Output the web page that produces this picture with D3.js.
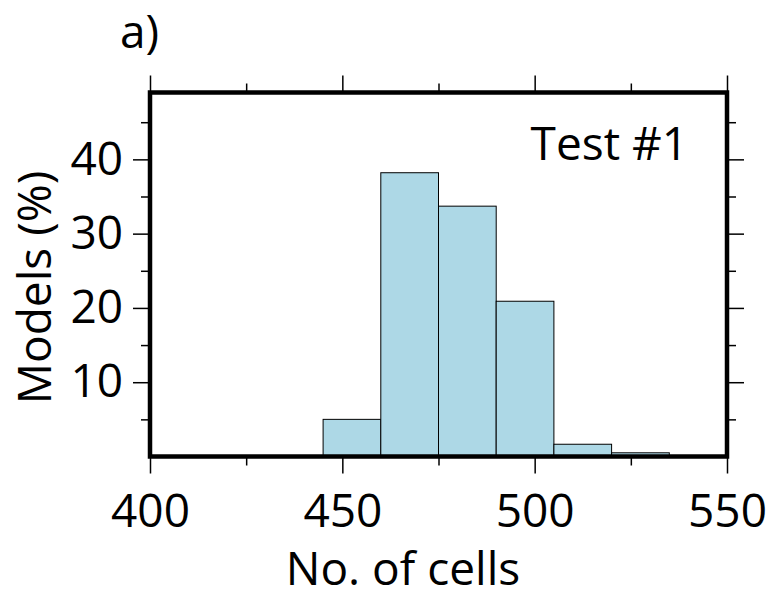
<!DOCTYPE html>
<html>
<head>
<meta charset="utf-8">
<script src="https://cdn.jsdelivr.net/npm/d3@7/dist/d3.min.js"></script>
<style>
  html, body { margin: 0; padding: 0; background: #fff; }
  svg { display: block; }
  text { font-family: "Open Sans", "Noto Sans", sans-serif; fill: #000; }
</style>
</head>
<body>
<svg id="chart" width="768" height="598"></svg>
<script>
// ---- data ----
const binStarts = [445, 460, 475, 490, 505, 520];
const binWidth = 15;
const percents = [5.0, 38.2, 33.7, 20.9, 1.65, 0.5];
const xMajorTicks = [400, 450, 500, 550];
const xMinorTicks = [425, 475, 525];
const yMajorTicks = [10, 20, 30, 40];
const yMinorTicks = [5, 15, 25, 35, 45];
const xDomain = [400, 550];
const yDomain = [0, 49];
const xTitle = "No. of cells";
const yTitle = "Models (%)";
const panelLabel = "a)";
const testLabel = "Test #1";

// ---- layout ----
const svg = d3.select("#chart");
const L = 150, R = 727, T = 92.5, B = 456.5;
const x = d3.scaleLinear().domain(xDomain).range([L, R]);
const y = d3.scaleLinear().domain(yDomain).range([B, T]);
const fs = 46;

// bars
svg.append("g").selectAll("rect")
  .data(binStarts.map((s, i) => ({s, v: percents[i]})))
  .join("rect")
  .attr("x", d => x(d.s))
  .attr("width", d => x(d.s + binWidth) - x(d.s))
  .attr("y", d => y(d.v))
  .attr("height", d => y(0) - y(d.v))
  .attr("fill", "#add8e6")
  .attr("stroke", "#000")
  .attr("stroke-width", 1);

function styleAxis(g) {
  g.select(".domain").remove();
  g.selectAll(".tick line").attr("stroke", "#000").attr("stroke-width", 1.5);
  g.selectAll(".tick text").style("font-size", fs + "px").style("font-family", '"Open Sans", sans-serif');
}

// bottom axis
svg.append("g").attr("transform", `translate(0,${B})`)
  .call(d3.axisBottom(x).tickValues(xMajorTicks).tickSize(17).tickPadding(21).tickFormat(d3.format("d")))
  .call(styleAxis);
svg.append("g").attr("transform", `translate(0,${B})`)
  .call(d3.axisBottom(x).tickValues(xMinorTicks).tickSize(9).tickFormat(""))
  .call(styleAxis);
// top axis
svg.append("g").attr("transform", `translate(0,${T})`)
  .call(d3.axisTop(x).tickValues(xMajorTicks).tickSize(17).tickFormat(""))
  .call(styleAxis);
svg.append("g").attr("transform", `translate(0,${T})`)
  .call(d3.axisTop(x).tickValues(xMinorTicks).tickSize(9).tickFormat(""))
  .call(styleAxis);
// left axis
svg.append("g").attr("transform", `translate(${L},0)`)
  .call(d3.axisLeft(y).tickValues(yMajorTicks).tickSize(17).tickPadding(10).tickFormat(d3.format("d")))
  .call(styleAxis);
svg.append("g").attr("transform", `translate(${L},0)`)
  .call(d3.axisLeft(y).tickValues(yMinorTicks).tickSize(9).tickFormat(""))
  .call(styleAxis);
// right axis
svg.append("g").attr("transform", `translate(${R},0)`)
  .call(d3.axisRight(y).tickValues(yMajorTicks).tickSize(17).tickFormat(""))
  .call(styleAxis);
svg.append("g").attr("transform", `translate(${R},0)`)
  .call(d3.axisRight(y).tickValues(yMinorTicks).tickSize(9).tickFormat(""))
  .call(styleAxis);

// frame
svg.append("rect")
  .attr("x", L).attr("y", T).attr("width", R - L).attr("height", B - T)
  .attr("fill", "none").attr("stroke", "#000").attr("stroke-width", 4.5);

// titles
svg.append("text").attr("x", 403).attr("y", 585).attr("text-anchor", "middle")
  .style("font-size", fs + "px").text(xTitle);
svg.append("text").attr("transform", "translate(51,287.5) rotate(-90)").attr("text-anchor", "middle")
  .style("font-size", fs + "px").text(yTitle);
svg.append("text").attr("x", 120).attr("y", 48)
  .style("font-size", fs + "px").text(panelLabel);
svg.append("text").attr("x", 688).attr("y", 160).attr("text-anchor", "end")
  .style("font-size", fs + "px").text(testLabel);
</script>
</body>
</html>
